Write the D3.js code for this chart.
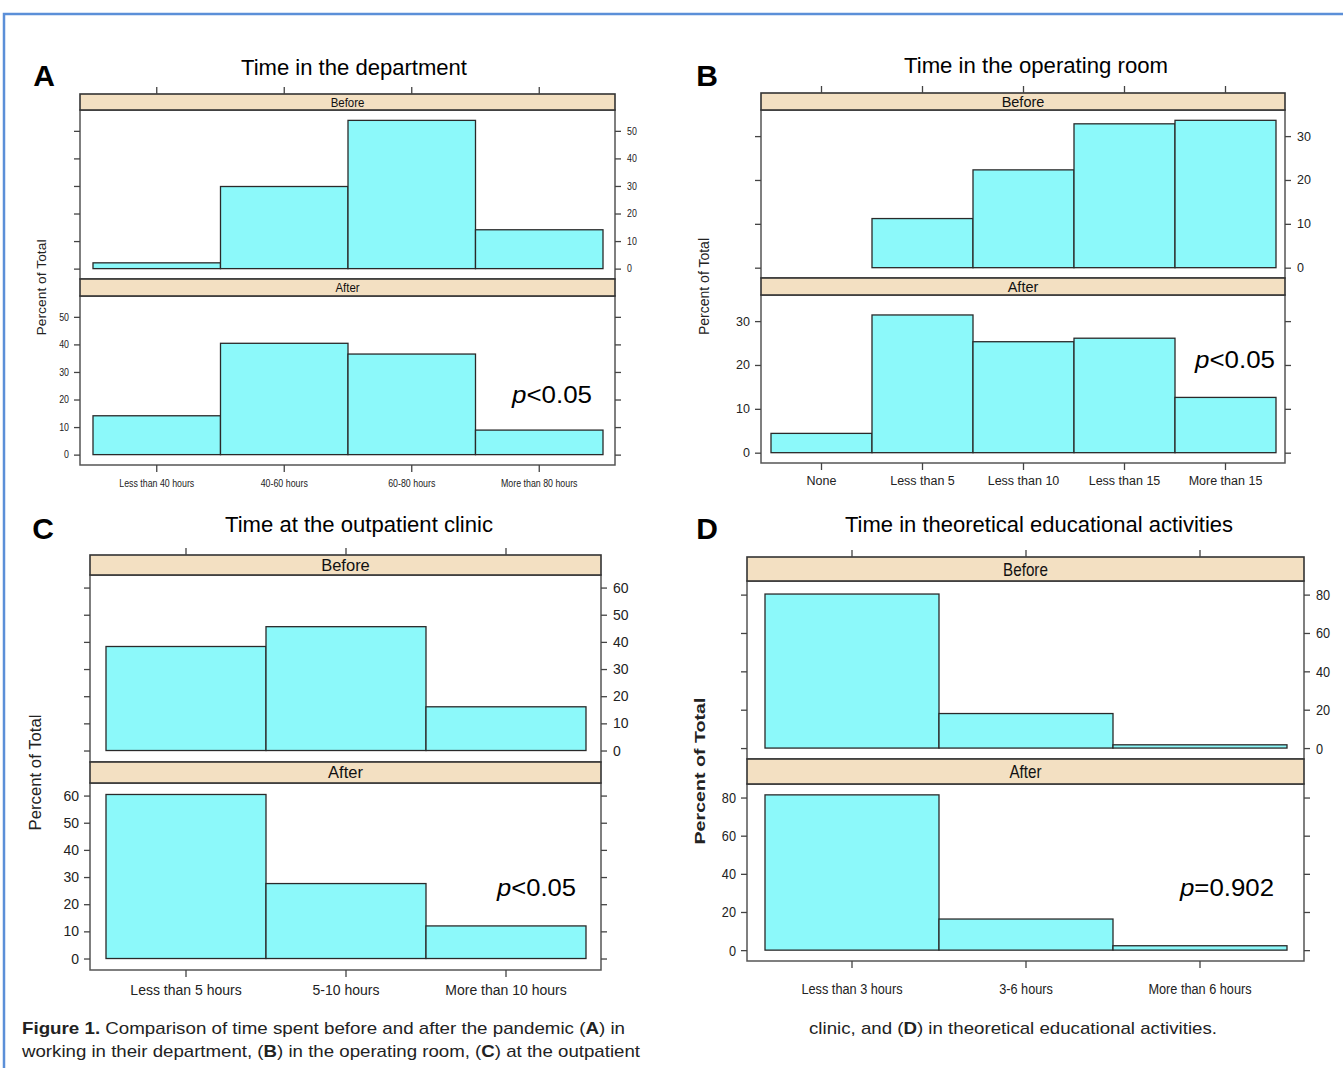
<!DOCTYPE html>
<html>
<head>
<meta charset="utf-8">
<script src="https://cdn.jsdelivr.net/npm/d3@7"></script>
<style>
  body { margin: 0; background: #fff; }
  svg { display: block; font-family: "Liberation Sans", Arial, sans-serif; }
</style>
</head>
<body>
<div id="chart"></div>
<script>
// data (percent of total)
var deptCategories = ["Less than 40 hours", "40-60 hours", "60-80 hours", "More than 80 hours"];
var deptBefore = [2.1, 29.8, 53.8, 14.1];
var deptAfter = [14.1, 40.4, 36.5, 8.9];
var deptTicks = [0, 10, 20, 30, 40, 50];

var orCategories = ["None", "Less than 5", "Less than 10", "Less than 15", "More than 15"];
var orBefore = [0, 11.2, 22.3, 32.8, 33.6];
var orAfter = [4.4, 31.4, 25.3, 26.1, 12.6];
var orTicks = [0, 10, 20, 30];

var clinicCategories = ["Less than 5 hours", "5-10 hours", "More than 10 hours"];
var clinicBefore = [38.3, 45.6, 16.1];
var clinicAfter = [60.4, 27.6, 12.0];
var clinicTicks = [0, 10, 20, 30, 40, 50, 60];

var eduCategories = ["Less than 3 hours", "3-6 hours", "More than 6 hours"];
var eduBefore = [80.3, 18.0, 1.7];
var eduAfter = [81.4, 16.3, 2.3];
var eduTicks = [0, 20, 40, 60, 80];

var panelLetters = ["A", "B", "C", "D"];
var panelTitles = ["Time in the department", "Time in the operating room",
  "Time at the outpatient clinic", "Time in theoretical educational activities"];
var pTexts = ["<0.05", "<0.05", "<0.05", "=0.902"];
var stripNames = ["Before", "After"];

var svg = d3.select("#chart").append("svg")
  .attr("width", 1343)
  .attr("height", 1068);

// page frame
svg.append("path")
  .attr("d", "M4,1068 L4,14 L1343,14")
  .attr("fill", "none")
  .attr("stroke", "#5b8fd8")
  .attr("stroke-width", 2.5);

// squeeze text horizontally (no narrow font installed)
function condense(sel, factor) {
  if (factor === 1) return;
  sel.each(function () {
    var w = this.getComputedTextLength();
    d3.select(this).attr("textLength", w * factor).attr("lengthAdjust", "spacingAndGlyphs");
  });
}

// layout of each lattice panel (pixels)
var layouts = [
  { box: [80, 615], bars: [93, 603], s1: [94, 110], p1: [110, 279], s2: [279, 296], p2: [296, 465],
    letter: [44, 86], title: [241, 75, 226], ytitle: [46, 96],
    font: { strip: 13, stripSq: 0.88, tick: 10.5, tickSq: 0.84, ytitle: 12.5, ytitleW: "normal" },
    pPos: [512, 403, 80], bottomPad: 8 },
  { box: [761, 1285], bars: [771, 1276], s1: [93, 110], p1: [110, 278], s2: [278, 295], p2: [295, 463],
    letter: [707, 86], title: [904, 73, 264], ytitle: [709, 97],
    font: { strip: 14.5, stripSq: 1, tick: 12.5, tickSq: 1, ytitle: 14, ytitleW: "normal" },
    pPos: [1195, 368, 80], bottomPad: 6 },
  { box: [90, 601], bars: [106, 586], s1: [555, 575], p1: [575, 762], s2: [762, 783], p2: [783, 970],
    letter: [43, 539], title: [225, 532, 268], ytitle: [41, 116],
    font: { strip: 16.5, stripSq: 1, tick: 14, tickSq: 1, ytitle: 16, ytitleW: "normal" },
    pPos: [497, 896, 79], bottomPad: 8 },
  { box: [747, 1304], bars: [765, 1287], s1: [557, 581], p1: [581, 759], s2: [759, 784], p2: [784, 961],
    letter: [707, 539], title: [845, 532, 388], ytitle: [705, 147],
    font: { strip: 19, stripSq: 0.8, tick: 15.5, tickSq: 0.82, ytitle: 15, ytitleW: "bold" },
    pPos: [1180, 896, 94], bottomPad: 15 }
];

var panelData = [
  { categories: deptCategories, before: deptBefore, after: deptAfter, ticks: deptTicks },
  { categories: orCategories, before: orBefore, after: orAfter, ticks: orTicks },
  { categories: clinicCategories, before: clinicBefore, after: clinicAfter, ticks: clinicTicks },
  { categories: eduCategories, before: eduBefore, after: eduAfter, ticks: eduTicks }
];

function styleAxis(ax, cfg, labelled) {
  ax.select(".domain").remove();
  ax.selectAll(".tick line").attr("stroke", "#444").attr("stroke-width", 1.3);
  if (!labelled) { ax.selectAll(".tick text").remove(); return; }
  var t = ax.selectAll(".tick text")
    .attr("fill", "#222")
    .style("font-family", '"Liberation Sans", Arial, sans-serif')
    .style("font-size", cfg.font.tick + "px");
  condense(t, cfg.font.tickSq);
}

panelData.forEach(function (pd, k) {
  var cfg = layouts[k];
  var g = svg.append("g");
  var maxV = d3.max(pd.before.concat(pd.after));

  var x = d3.scaleBand().domain(pd.categories).range(cfg.bars).padding(0);
  var yTop = d3.scaleLinear().domain([-0.07 * maxV, 1.07 * maxV]).range([cfg.p1[1], cfg.p1[0]]);
  var yBot = d3.scaleLinear().domain([-0.07 * maxV, 1.07 * maxV]).range([cfg.p2[1], cfg.p2[0]]);

  // panel letter and title
  g.append("text")
    .attr("x", cfg.letter[0]).attr("y", cfg.letter[1])
    .attr("text-anchor", "middle")
    .style("font-size", "30px").style("font-weight", "bold")
    .text(panelLetters[k]);
  g.append("text")
    .attr("x", cfg.title[0]).attr("y", cfg.title[1])
    .attr("textLength", cfg.title[2]).attr("lengthAdjust", "spacingAndGlyphs")
    .style("font-size", "22.5px")
    .text(panelTitles[k]);

  // strips and panel boxes
  [[cfg.s1, cfg.p1], [cfg.s2, cfg.p2]].forEach(function (sp, i) {
    g.append("rect")
      .attr("x", cfg.box[0]).attr("y", sp[1][0])
      .attr("width", cfg.box[1] - cfg.box[0]).attr("height", sp[1][1] - sp[1][0])
      .attr("fill", "#fff").attr("stroke", "#555").attr("stroke-width", 1.5);
    g.append("rect")
      .attr("x", cfg.box[0]).attr("y", sp[0][0])
      .attr("width", cfg.box[1] - cfg.box[0]).attr("height", sp[0][1] - sp[0][0])
      .attr("fill", "#f3e0c2").attr("stroke", "#333").attr("stroke-width", 1.6);
    var st = g.append("text")
      .attr("x", (cfg.box[0] + cfg.box[1]) / 2)
      .attr("y", (sp[0][0] + sp[0][1]) / 2)
      .attr("dy", "0.36em")
      .attr("text-anchor", "middle")
      .style("font-size", cfg.font.strip + "px")
      .attr("fill", "#111")
      .text(stripNames[i]);
    condense(st, cfg.font.stripSq);
  });

  // bars
  [[pd.before, yTop], [pd.after, yBot]].forEach(function (set) {
    var vals = set[0], y = set[1];
    g.append("g").selectAll("rect")
      .data(vals)
      .join("rect")
      .attr("x", function (d, i) { return x(pd.categories[i]); })
      .attr("y", function (d) { return y(d); })
      .attr("width", x.bandwidth())
      .attr("height", function (d) { return y(0) - y(d); })
      .attr("fill", "#8cf9fa")
      .attr("stroke", "#2a2a2a")
      .attr("stroke-width", 1.3);
  });

  // axes
  var axL2 = g.append("g").attr("transform", "translate(" + cfg.box[0] + ",0)")
    .call(d3.axisLeft(yBot).tickValues(pd.ticks).tickSize(6).tickPadding(5));
  styleAxis(axL2, cfg, true);
  var axL1 = g.append("g").attr("transform", "translate(" + cfg.box[0] + ",0)")
    .call(d3.axisLeft(yTop).tickValues(pd.ticks).tickSize(6));
  styleAxis(axL1, cfg, false);
  var axR1 = g.append("g").attr("transform", "translate(" + cfg.box[1] + ",0)")
    .call(d3.axisRight(yTop).tickValues(pd.ticks).tickSize(6).tickPadding(6));
  styleAxis(axR1, cfg, true);
  var axR2 = g.append("g").attr("transform", "translate(" + cfg.box[1] + ",0)")
    .call(d3.axisRight(yBot).tickValues(pd.ticks).tickSize(6));
  styleAxis(axR2, cfg, false);
  var axB = g.append("g").attr("transform", "translate(0," + cfg.p2[1] + ")")
    .call(d3.axisBottom(x).tickSize(7).tickPadding(cfg.bottomPad));
  styleAxis(axB, cfg, true);
  var axT = g.append("g").attr("transform", "translate(0," + cfg.s1[0] + ")")
    .call(d3.axisTop(x).tickSize(7));
  styleAxis(axT, cfg, false);

  // y axis title
  var yc = (cfg.p1[0] + cfg.p2[1]) / 2;
  g.append("text")
    .attr("transform", "translate(" + cfg.ytitle[0] + "," + yc + ") rotate(-90)")
    .attr("text-anchor", "middle")
    .attr("textLength", cfg.ytitle[1]).attr("lengthAdjust", "spacingAndGlyphs")
    .style("font-size", cfg.font.ytitle + "px")
    .style("font-weight", cfg.font.ytitleW)
    .attr("fill", "#222")
    .text("Percent of Total");

  // p value
  var pt = g.append("text")
    .attr("x", cfg.pPos[0]).attr("y", cfg.pPos[1])
    .attr("textLength", cfg.pPos[2]).attr("lengthAdjust", "spacingAndGlyphs")
    .style("font-size", "24px");
  pt.append("tspan").style("font-style", "italic").text("p");
  pt.append("tspan").text(pTexts[k]);
});

// caption
var cap1 = svg.append("text").attr("x", 22).attr("y", 1034)
  .attr("textLength", 603).attr("lengthAdjust", "spacingAndGlyphs")
  .style("font-size", "17px").attr("fill", "#222");
cap1.append("tspan").style("font-weight", "bold").text("Figure 1.");
cap1.append("tspan").text("  Comparison of time spent before and after the pandemic (");
cap1.append("tspan").style("font-weight", "bold").text("A");
cap1.append("tspan").text(") in");

var cap2 = svg.append("text").attr("x", 22).attr("y", 1057)
  .attr("textLength", 618).attr("lengthAdjust", "spacingAndGlyphs")
  .style("font-size", "17px").attr("fill", "#222");
cap2.append("tspan").text("working in their department, (");
cap2.append("tspan").style("font-weight", "bold").text("B");
cap2.append("tspan").text(") in the operating room, (");
cap2.append("tspan").style("font-weight", "bold").text("C");
cap2.append("tspan").text(") at the outpatient");

var cap3 = svg.append("text").attr("x", 809).attr("y", 1034)
  .attr("textLength", 408).attr("lengthAdjust", "spacingAndGlyphs")
  .style("font-size", "17px").attr("fill", "#222");
cap3.append("tspan").text("clinic, and (");
cap3.append("tspan").style("font-weight", "bold").text("D");
cap3.append("tspan").text(") in theoretical educational activities.");
</script>
</body>
</html>
